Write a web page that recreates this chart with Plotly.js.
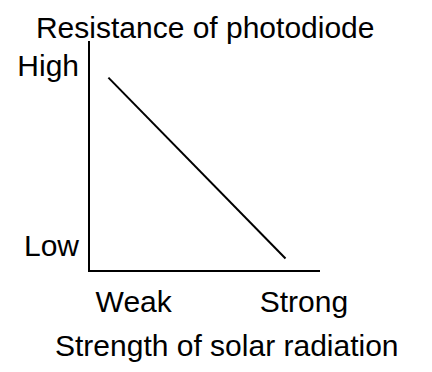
<!DOCTYPE html>
<html>
<head>
<meta charset="utf-8">
<script src="https://cdn.plot.ly/plotly-3.0.1.min.js"></script>
<style>html,body{margin:0;padding:0;background:#fff;}#chart{width:432px;height:372px;}</style>
</head>
<body>
<div id="chart"></div>
<script>
// Data
const strength = [0.8, 8.5];          // strength of solar radiation (arbitrary units)
const resistance = [8.4, 0.5];        // resistance of photodiode (arbitrary units)
const xTickVals = [1.9, 9.3];
const xTickText = ["Weak", "Strong"];
const yTickVals = [8.95, 1.05];
const yTickText = ["High", "Low"];
const chartTitle = "Resistance of photodiode";
const xTitle = "Strength of solar radiation";

const font = {family: "Liberation Sans, Arial, sans-serif", size: 30, color: "#000"};

Plotly.newPlot("chart", [{
  x: strength, y: resistance, type: "scatter", mode: "lines",
  line: {color: "#000", width: 2}, hoverinfo: "skip"
}], {
  width: 432, height: 372,
  margin: {l: 90, r: 112, t: 41, b: 102},
  paper_bgcolor: "#fff", plot_bgcolor: "#fff",
  font: font,
  showlegend: false,
  title: {text: chartTitle, font: font, x: 0.475, xanchor: "center", y: 0.925, yanchor: "middle"},
  xaxis: {
    range: [0, 10], showgrid: false, zeroline: false,
    showline: true, linecolor: "#000", linewidth: 2,
    tickvals: xTickVals, ticktext: xTickText, ticks: "",
    ticklabelstandoff: 4, tickfont: font
  },
  yaxis: {
    range: [0, 10], showgrid: false, zeroline: false,
    showline: true, linecolor: "#000", linewidth: 2,
    tickvals: yTickVals, ticktext: yTickText, ticks: "",
    ticklabelstandoff: 3, tickfont: font
  },
  annotations: [{
    text: xTitle, xref: "paper", yref: "paper", x: 0.596, y: -0.33,
    xanchor: "center", yanchor: "middle", showarrow: false, font: font
  }]
}, {staticPlot: true, displayModeBar: false});
</script>
</body>
</html>
